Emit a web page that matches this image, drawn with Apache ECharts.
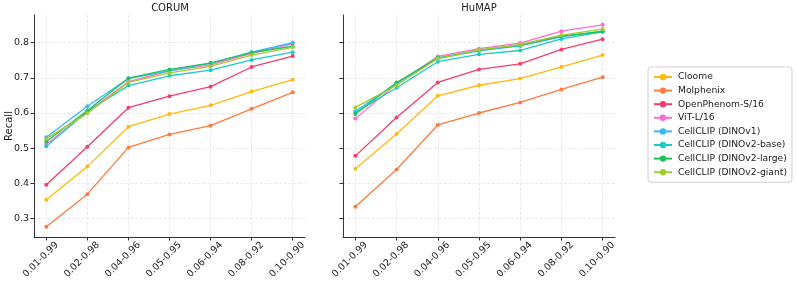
<!DOCTYPE html>
<html><head><meta charset="utf-8">
<script src="https://cdn.jsdelivr.net/npm/echarts@6/dist/echarts.min.js"></script>
<style>html,body{margin:0;padding:0;background:#fff}#c{width:797px;height:285px}</style>
</head><body><div id="c"></div>
<script>
const categories = ['0.01-0.99','0.02-0.98','0.04-0.96','0.05-0.95','0.06-0.94','0.08-0.92','0.10-0.90'];
const yTicks = [0.3,0.4,0.5,0.6,0.7,0.8];
const seriesNames = ['Cloome','Molphenix','OpenPhenom-S/16','ViT-L/16','CellCLIP (DINOv1)','CellCLIP (DINOv2-base)','CellCLIP (DINOv2-large)','CellCLIP (DINOv2-giant)'];
const colors = ['#FFB90F','#FF7A3D','#F53D6B','#FF6AD0','#33BBF5','#1CCBC4','#1EC15C','#A4CC2E'];

const corumCloome   = [0.353,0.448,0.561,0.597,0.622,0.661,0.695];
const corumMolph    = [0.276,0.369,0.502,0.539,0.564,0.612,0.659];
const corumOpenPh   = [0.396,0.504,0.615,0.648,0.675,0.731,0.762];
const corumVitL     = [0.511,0.603,0.689,0.720,0.737,0.770,0.797];
const corumDinoV1   = [0.531,0.619,0.698,0.720,0.742,0.773,0.800];
const corumBase     = [0.505,0.605,0.678,0.706,0.722,0.751,0.773];
const corumLarge    = [0.519,0.607,0.699,0.724,0.742,0.772,0.790];
const corumGiant    = [0.527,0.599,0.687,0.714,0.733,0.765,0.787];

const humapCloome   = [0.441,0.540,0.649,0.679,0.698,0.731,0.765];
const humapMolph    = [0.333,0.439,0.566,0.600,0.630,0.667,0.702];
const humapOpenPh   = [0.478,0.587,0.687,0.724,0.740,0.781,0.810];
const humapVitL     = [0.584,0.683,0.761,0.783,0.799,0.833,0.851];
const humapDinoV1   = [0.605,0.685,0.755,0.777,0.791,0.817,0.833];
const humapBase     = [0.601,0.672,0.746,0.767,0.778,0.811,0.831];
const humapLarge    = [0.597,0.687,0.757,0.779,0.793,0.819,0.832];
const humapGiant    = [0.616,0.679,0.755,0.780,0.795,0.822,0.839];

const corum = [corumCloome,corumMolph,corumOpenPh,corumVitL,corumDinoV1,corumBase,corumLarge,corumGiant];
const humap = [humapCloome,humapMolph,humapOpenPh,humapVitL,humapDinoV1,humapBase,humapLarge,humapGiant];

const idx = categories.map((_, i) => i);
const font = 'DejaVu Sans';
const axisColor = '#333';

function xAxis(gi){
  return {
    type:'value', gridIndex:gi, min:-0.3, max:6.3,
    axisLine:{show:true,onZero:false,lineStyle:{color:axisColor,width:1}},
    axisTick:{show:true,customValues:idx,length:3.5,lineStyle:{color:axisColor}},
    axisLabel:{customValues:idx,rotate:45,fontFamily:font,fontSize:9.5,color:'#222',margin:17,
      padding:[0,-15,0,0],
      formatter:v=>categories[Math.round(v)]},
    splitLine:{show:true,lineStyle:{color:'#e6e6e6',type:'dashed',width:0.8}}
  };
}
function yAxis(gi, showLabels){
  return {
    type:'value', gridIndex:gi, min:0.247, max:0.879,
    axisLine:{show:true,onZero:false,lineStyle:{color:axisColor,width:1}},
    axisTick:{show:true,customValues:yTicks,length:3.5,lineStyle:{color:axisColor}},
    axisLabel:{show:showLabels,customValues:yTicks,fontFamily:font,fontSize:9.5,color:'#222',margin:5,
      formatter:v=>v.toFixed(1)},
    splitLine:{show:true,lineStyle:{color:'#e6e6e6',type:'dashed',width:0.8}},
    name: showLabels ? 'Recall' : '', nameLocation:'middle', nameGap:20, nameMoveOverlap:false,
    nameTextStyle:{fontFamily:font,fontSize:10,color:'#222'}
  };
}

const series = [];
[corum, humap].forEach((panel, gi) => {
  panel.forEach((vals, si) => {
    series.push({
      name: seriesNames[si], type:'line', xAxisIndex:gi, yAxisIndex:gi,
      data: vals.map((v,i)=>[idx[i], v]),
      symbol:'circle', symbolSize:4, showSymbol:true,
      lineStyle:{width:1.3,color:colors[si]},
      itemStyle:{color:colors[si]},
      z: 2 + si, animation:false
    });
  });
});

const chart = echarts.init(document.getElementById('c'), null, {renderer:'canvas'});
chart.setOption({
  animation:false,
  title:[
    {text:'CORUM', left:170, top:3, padding:0, textAlign:'center', textStyle:{fontFamily:font,fontSize:10,fontWeight:'normal',color:'#222'}},
    {text:'HuMAP', left:479, top:3, padding:0, textAlign:'center', textStyle:{fontFamily:font,fontSize:10,fontWeight:'normal',color:'#222'}}
  ],
  grid:[
    {left:34, top:15, width:271, height:222},
    {left:343, top:15, width:272, height:222}
  ],
  xAxis:[xAxis(0), xAxis(1)],
  yAxis:[yAxis(0,true), yAxis(1,false)],
  legend:{
    data: seriesNames, orient:'vertical', left:648, top:67,
    itemWidth:18, itemHeight:8, itemGap:3.6,
    textStyle:{fontFamily:font,fontSize:9.2,color:'#222',lineHeight:10,padding:[0,0,0,1]},
    borderColor:'#d0d0d0', borderWidth:1, borderRadius:3,
    padding:[5,5,5,5],
  },
  series
});
</script></body></html>
